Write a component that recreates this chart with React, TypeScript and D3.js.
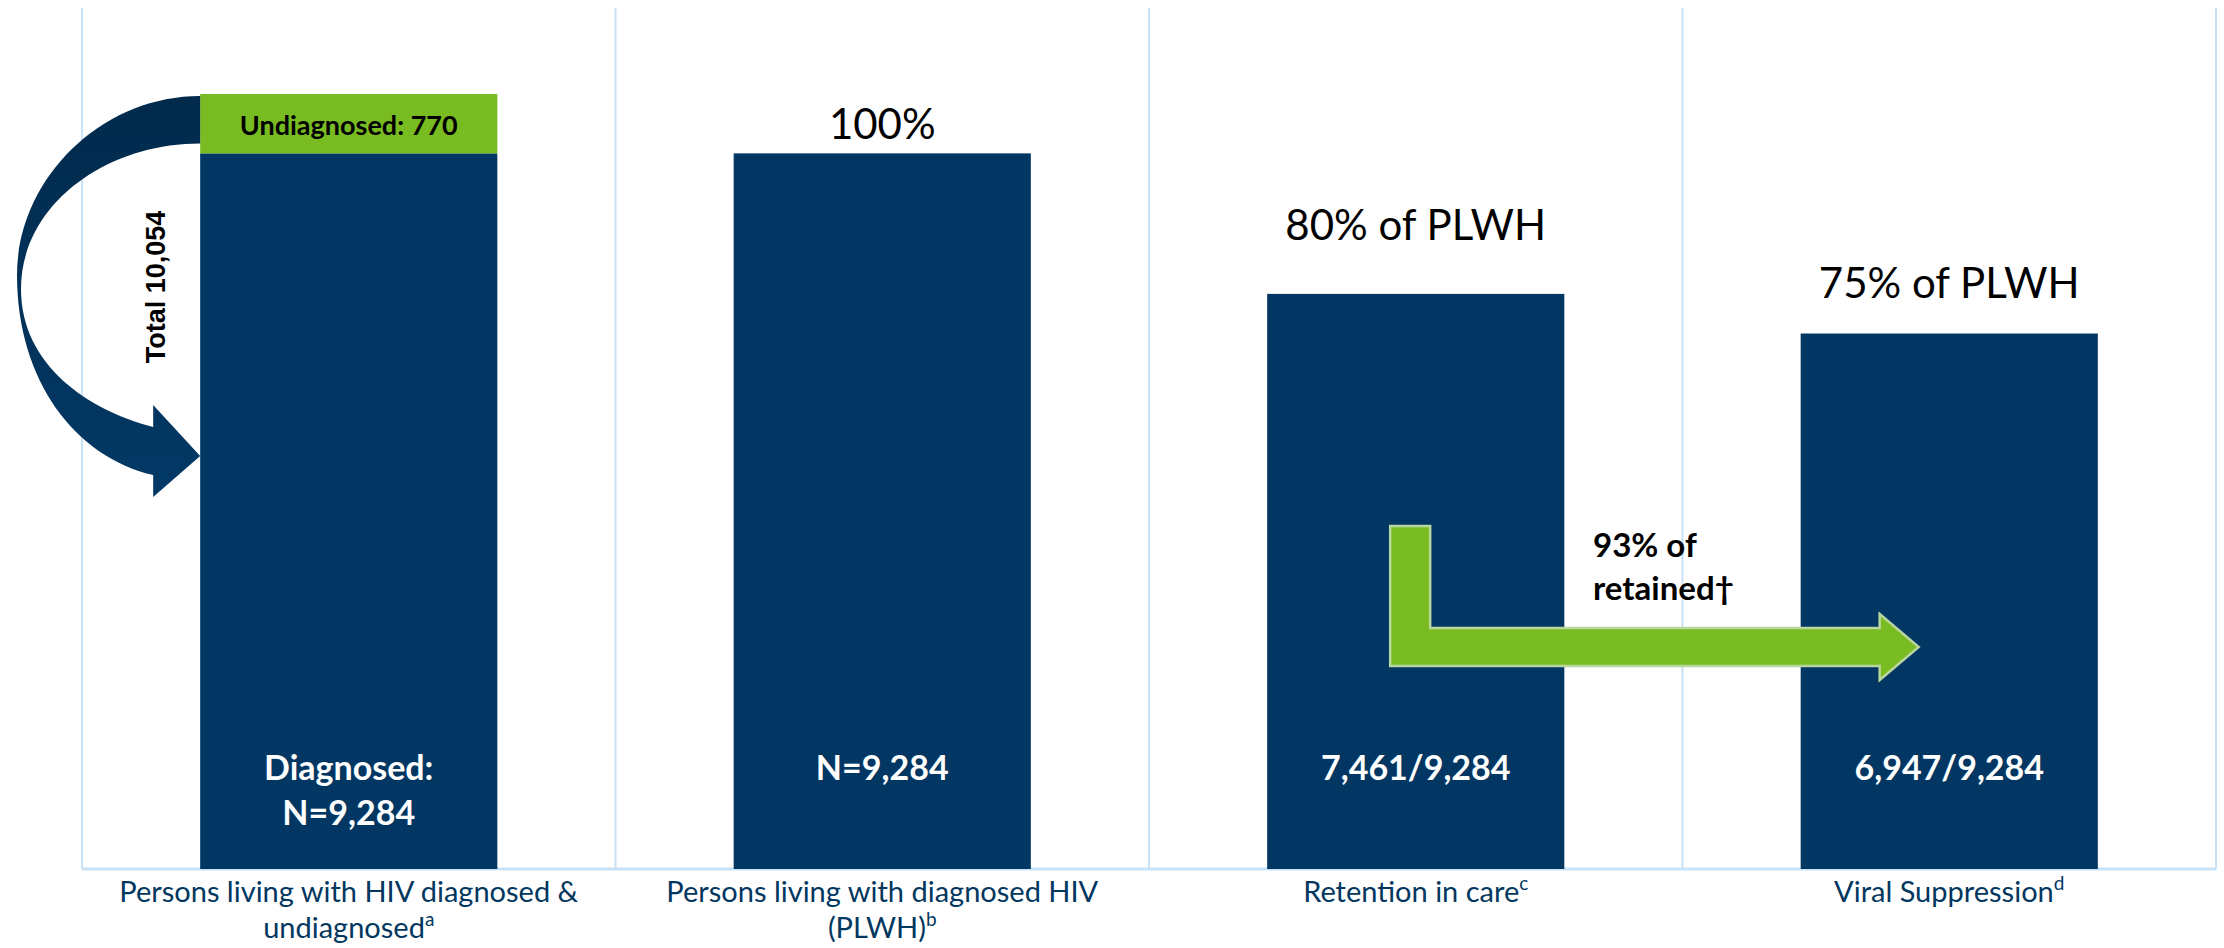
import React from "react";
import * as d3 from "d3";

const categoryLines: string[][] = [
  ["Persons living with HIV diagnosed &", "undiagnosed"],
  ["Persons living with diagnosed HIV", "(PLWH)"],
  ["Retention in care"],
  ["Viral Suppression"],
];
const categorySup = ["a", "b", "c", "d"];
const diagnosedValues = [9284, 9284, 7461, 6947];
const undiagnosedValues = [770, 0, 0, 0];
const barLabels: string[][] = [["Diagnosed:", "N=9,284"], ["N=9,284"], ["7,461/9,284"], ["6,947/9,284"]];
const topLabels = ["", "100%", "80% of PLWH", "75% of PLWH"];
const undiagnosedLabel = "Undiagnosed: 770";
const totalLabel = "Total 10,054";
const retainedLines = ["93% of", "retained†"];
const yMax = 11170;

// layout (not data)
const topLabelGap = [0, 14, 54, 36];

const W = 2224;
const H = 948;
const NAVY = "#02375F";
const BAR = "#023764";
const GREEN = "#79BC22";
const GRID = "#C8E2F8";
const FONT = "Lato, 'Open Sans', sans-serif";

export default function App() {
  const idx = categoryLines.map((_, i) => i);
  const x = d3.scaleBand<number>().domain(idx).range([82, 2216]).paddingInner(0.443).paddingOuter(0.2215);
  const y = d3.scaleLinear().domain([0, yMax]).range([869, 8]);
  const step = x.step();
  const bw = x.bandwidth();
  const base = y(0);

  const bx = x(0)!;
  const yTot = y(diagnosedValues[0] + undiagnosedValues[0]);
  const yDiag = y(diagnosedValues[0]);

  // curved arrow (annotation shape) around first bar
  const curve = [
    `M${bx},${yTot + 2}`,
    `C${bx - 100},${yTot + 2} 17,180 17,275`,
    `C17,380 75,457 ${bx - 47},475`,
    `L${bx - 47},497`,
    `L${bx},456`,
    `L${bx - 47},405`,
    `L${bx - 47},427`,
    `C88,410 21,365 21,289`,
    `C21,205 105,${yDiag - 10} ${bx},${yDiag - 10}`,
    "Z",
  ].join(" ");

  // L-shaped green arrow from bar 3 to bar 4
  const x3 = x(2)!;
  const x4 = x(3)!;
  const sL = x3 + 123;
  const sR = sL + 40;
  const sTop = 526;
  const hTop = 628;
  const hBot = 666;
  const headX = x4 + 79;
  const tipX = headX + 39;
  const lArrow = [
    `M${sL},${sTop}`,
    `L${sR},${sTop}`,
    `L${sR},${hTop}`,
    `L${headX},${hTop}`,
    `L${headX},${hTop - 14}`,
    `L${tipX},${(hTop + hBot) / 2}`,
    `L${headX},${hBot + 14}`,
    `L${headX},${hBot}`,
    `L${sL},${hBot}`,
    "Z",
  ].join(" ");

  return (
    <svg width={W} height={H} style={{ position: "absolute", left: 0, top: 0, background: "#fff" }} fontFamily={FONT}>
      <defs>
        <linearGradient id="arrowGrad" x1="0" y1="0" x2="0" y2="1">
          <stop offset="0" stopColor="#012A4C" />
          <stop offset="1" stopColor="#023966" />
        </linearGradient>
      </defs>
      {/* gridlines */}
      {d3.range(categoryLines.length + 1).map((i) => (
        <line key={i} x1={82 + i * step} x2={82 + i * step} y1={8} y2={base} stroke={GRID} strokeWidth={2} />
      ))}
      <line x1={82} x2={2216} y1={base} y2={base} stroke={GRID} strokeWidth={3} />

      {/* bars */}
      {idx.map((i) => (
        <g key={i}>
          <rect x={x(i)} y={y(diagnosedValues[i])} width={bw} height={base - y(diagnosedValues[i])} fill={BAR} />
          {undiagnosedValues[i] > 0 && (
            <rect
              x={x(i)}
              y={y(diagnosedValues[i] + undiagnosedValues[i])}
              width={bw}
              height={y(diagnosedValues[i]) - y(diagnosedValues[i] + undiagnosedValues[i])}
              fill={GREEN}
            />
          )}
        </g>
      ))}

      {/* undiagnosed label */}
      <text x={bx + bw / 2} y={(yTot + yDiag) / 2 + 11} textAnchor="middle" fontWeight={700} fontSize={27} fill="#000">
        {undiagnosedLabel}
      </text>

      {/* bar inner labels */}
      {idx.map((i) => (
        <text key={i} textAnchor="middle" fontWeight={700} fontSize={34} fill="#fff">
          {barLabels[i].map((l, j) => (
            <tspan key={j} x={x(i)! + bw / 2} y={780 + j * 45}>
              {l}
            </tspan>
          ))}
        </text>
      ))}

      {/* top labels */}
      {idx.map((i) =>
        topLabels[i] ? (
          <text key={i} x={x(i)! + bw / 2} y={y(diagnosedValues[i]) - topLabelGap[i]} textAnchor="middle" fontSize={42} fill="#000">
            {topLabels[i]}
          </text>
        ) : null
      )}

      {/* category labels */}
      {idx.map((i) => (
        <text key={i} textAnchor="middle" fontSize={29} fill={NAVY}>
          {categoryLines[i].map((l, j) => (
            <tspan key={j} x={x(i)! + bw / 2} y={902 + j * 36}>
              {l}
              {j === categoryLines[i].length - 1 && (
                <tspan fontSize={19} dy={-12}>
                  {categorySup[i]}
                </tspan>
              )}
            </tspan>
          ))}
        </text>
      ))}

      {/* curved arrow */}
      <path d={curve} fill="url(#arrowGrad)" />
      <text
        transform={`translate(165,${287}) rotate(-90)`}
        textAnchor="middle"
        fontFamily="'Liberation Sans', Arial, sans-serif"
        fontWeight={700}
        fontSize={27}
        fill="#000"
      >
        {totalLabel}
      </text>

      {/* green L arrow */}
      <path d={lArrow} fill={GREEN} stroke="#B9D69E" strokeWidth={2.5} />
      <text fontWeight={700} fontSize={33} fill="#000">
        {retainedLines.map((l, j) => (
          <tspan key={j} x={1593} y={557 + j * 43}>
            {l}
          </tspan>
        ))}
      </text>
    </svg>
  );
}
